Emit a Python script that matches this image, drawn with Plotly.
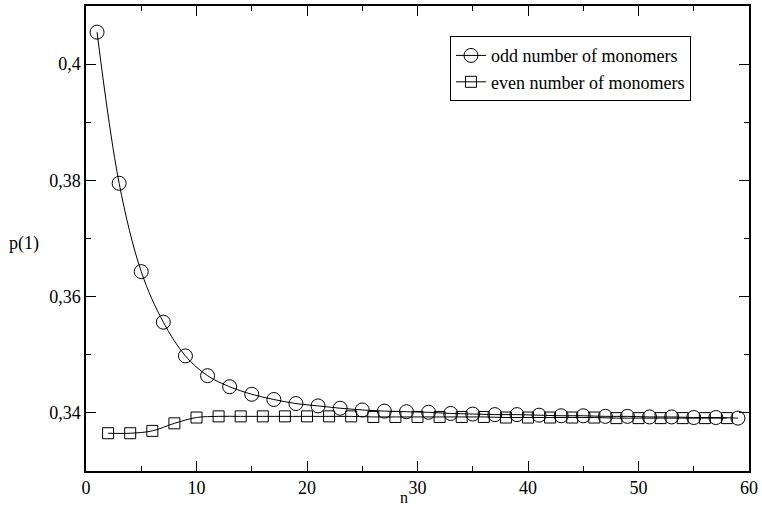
import plotly.graph_objects as go

odd_n = list(range(1, 60, 2))
odd_p = [0.4055, 0.3795, 0.3643, 0.3556, 0.3498, 0.3464, 0.3445, 0.3432, 0.3423, 0.3416,
         0.3412, 0.3408, 0.3405, 0.3403, 0.3402, 0.3401, 0.3399, 0.3398, 0.3397, 0.3397,
         0.3396, 0.3395, 0.3395, 0.3394, 0.3394, 0.3393, 0.3393, 0.3392, 0.3392, 0.3391]

even_n = list(range(2, 59, 2))
even_p = [0.3365, 0.3365, 0.3369, 0.3382, 0.3392, 0.3394, 0.3394, 0.3394, 0.3394, 0.3394,
          0.3394, 0.3394, 0.3393, 0.3393, 0.3393, 0.3393, 0.3393, 0.3393, 0.3392, 0.3392,
          0.3392, 0.3392, 0.3392, 0.3391, 0.3391, 0.3391, 0.3391, 0.3391, 0.3391]

font = "Liberation Serif"

fig = go.Figure()
fig.add_trace(go.Scatter(
    x=odd_n, y=odd_p, mode="lines+markers", name="odd number of monomers",
    line=dict(color="black", width=1, shape="spline"),
    marker=dict(symbol="circle-open", size=14, color="black", line=dict(width=1)),
))
fig.add_trace(go.Scatter(
    x=even_n, y=even_p, mode="lines+markers", name="even number of monomers",
    line=dict(color="black", width=1, shape="spline"),
    marker=dict(symbol="square-open", size=11, color="black", line=dict(width=1)),
))

axis_common = dict(
    showgrid=False, zeroline=False, showline=True, linecolor="black", linewidth=1.5,
    mirror="allticks", ticks="inside", ticklen=10, tickwidth=1, tickcolor="black",
    tickfont=dict(family=font, size=18, color="black"),
)

fig.update_layout(
    width=762, height=507,
    margin=dict(l=86, r=10, t=4, b=36),
    paper_bgcolor="white", plot_bgcolor="white",
    separators=",.",
    showlegend=True,
    font=dict(family=font, size=18, color="black"),
    legend=dict(
        x=0.549, y=0.935, xanchor="left", yanchor="top",
        bgcolor="white", bordercolor="black", borderwidth=1,
        font=dict(family=font, size=18, color="black"),
        tracegroupgap=0, itemwidth=30,
    ),
    xaxis=dict(range=[0, 60], dtick=10, tick0=0,
               minor=dict(dtick=5, ticklen=5, ticks="inside", tickcolor="black"),
               **axis_common),
    yaxis=dict(range=[0.33, 0.41], dtick=0.02, tick0=0.34, tickformat=".2~f",
               minor=dict(dtick=0.01, ticklen=5, ticks="inside", tickcolor="black"),
               **axis_common),
)
pw, ph = 762 - 86 - 10, 507 - 4 - 36
fig.add_annotation(text="p(1)", x=(24 - 86) / pw, y=(471 - 243) / ph, xref="paper", yref="paper",
                   showarrow=False, xanchor="center", yanchor="middle",
                   font=dict(family=font, size=18, color="black"))
fig.add_annotation(text="n", x=(405 - 86) / pw, y=(471 - 498) / ph, xref="paper", yref="paper",
                   showarrow=False, xanchor="center", yanchor="middle", borderpad=0,
                   font=dict(family=font, size=16, color="black"))

fig.write_html("out.html")
